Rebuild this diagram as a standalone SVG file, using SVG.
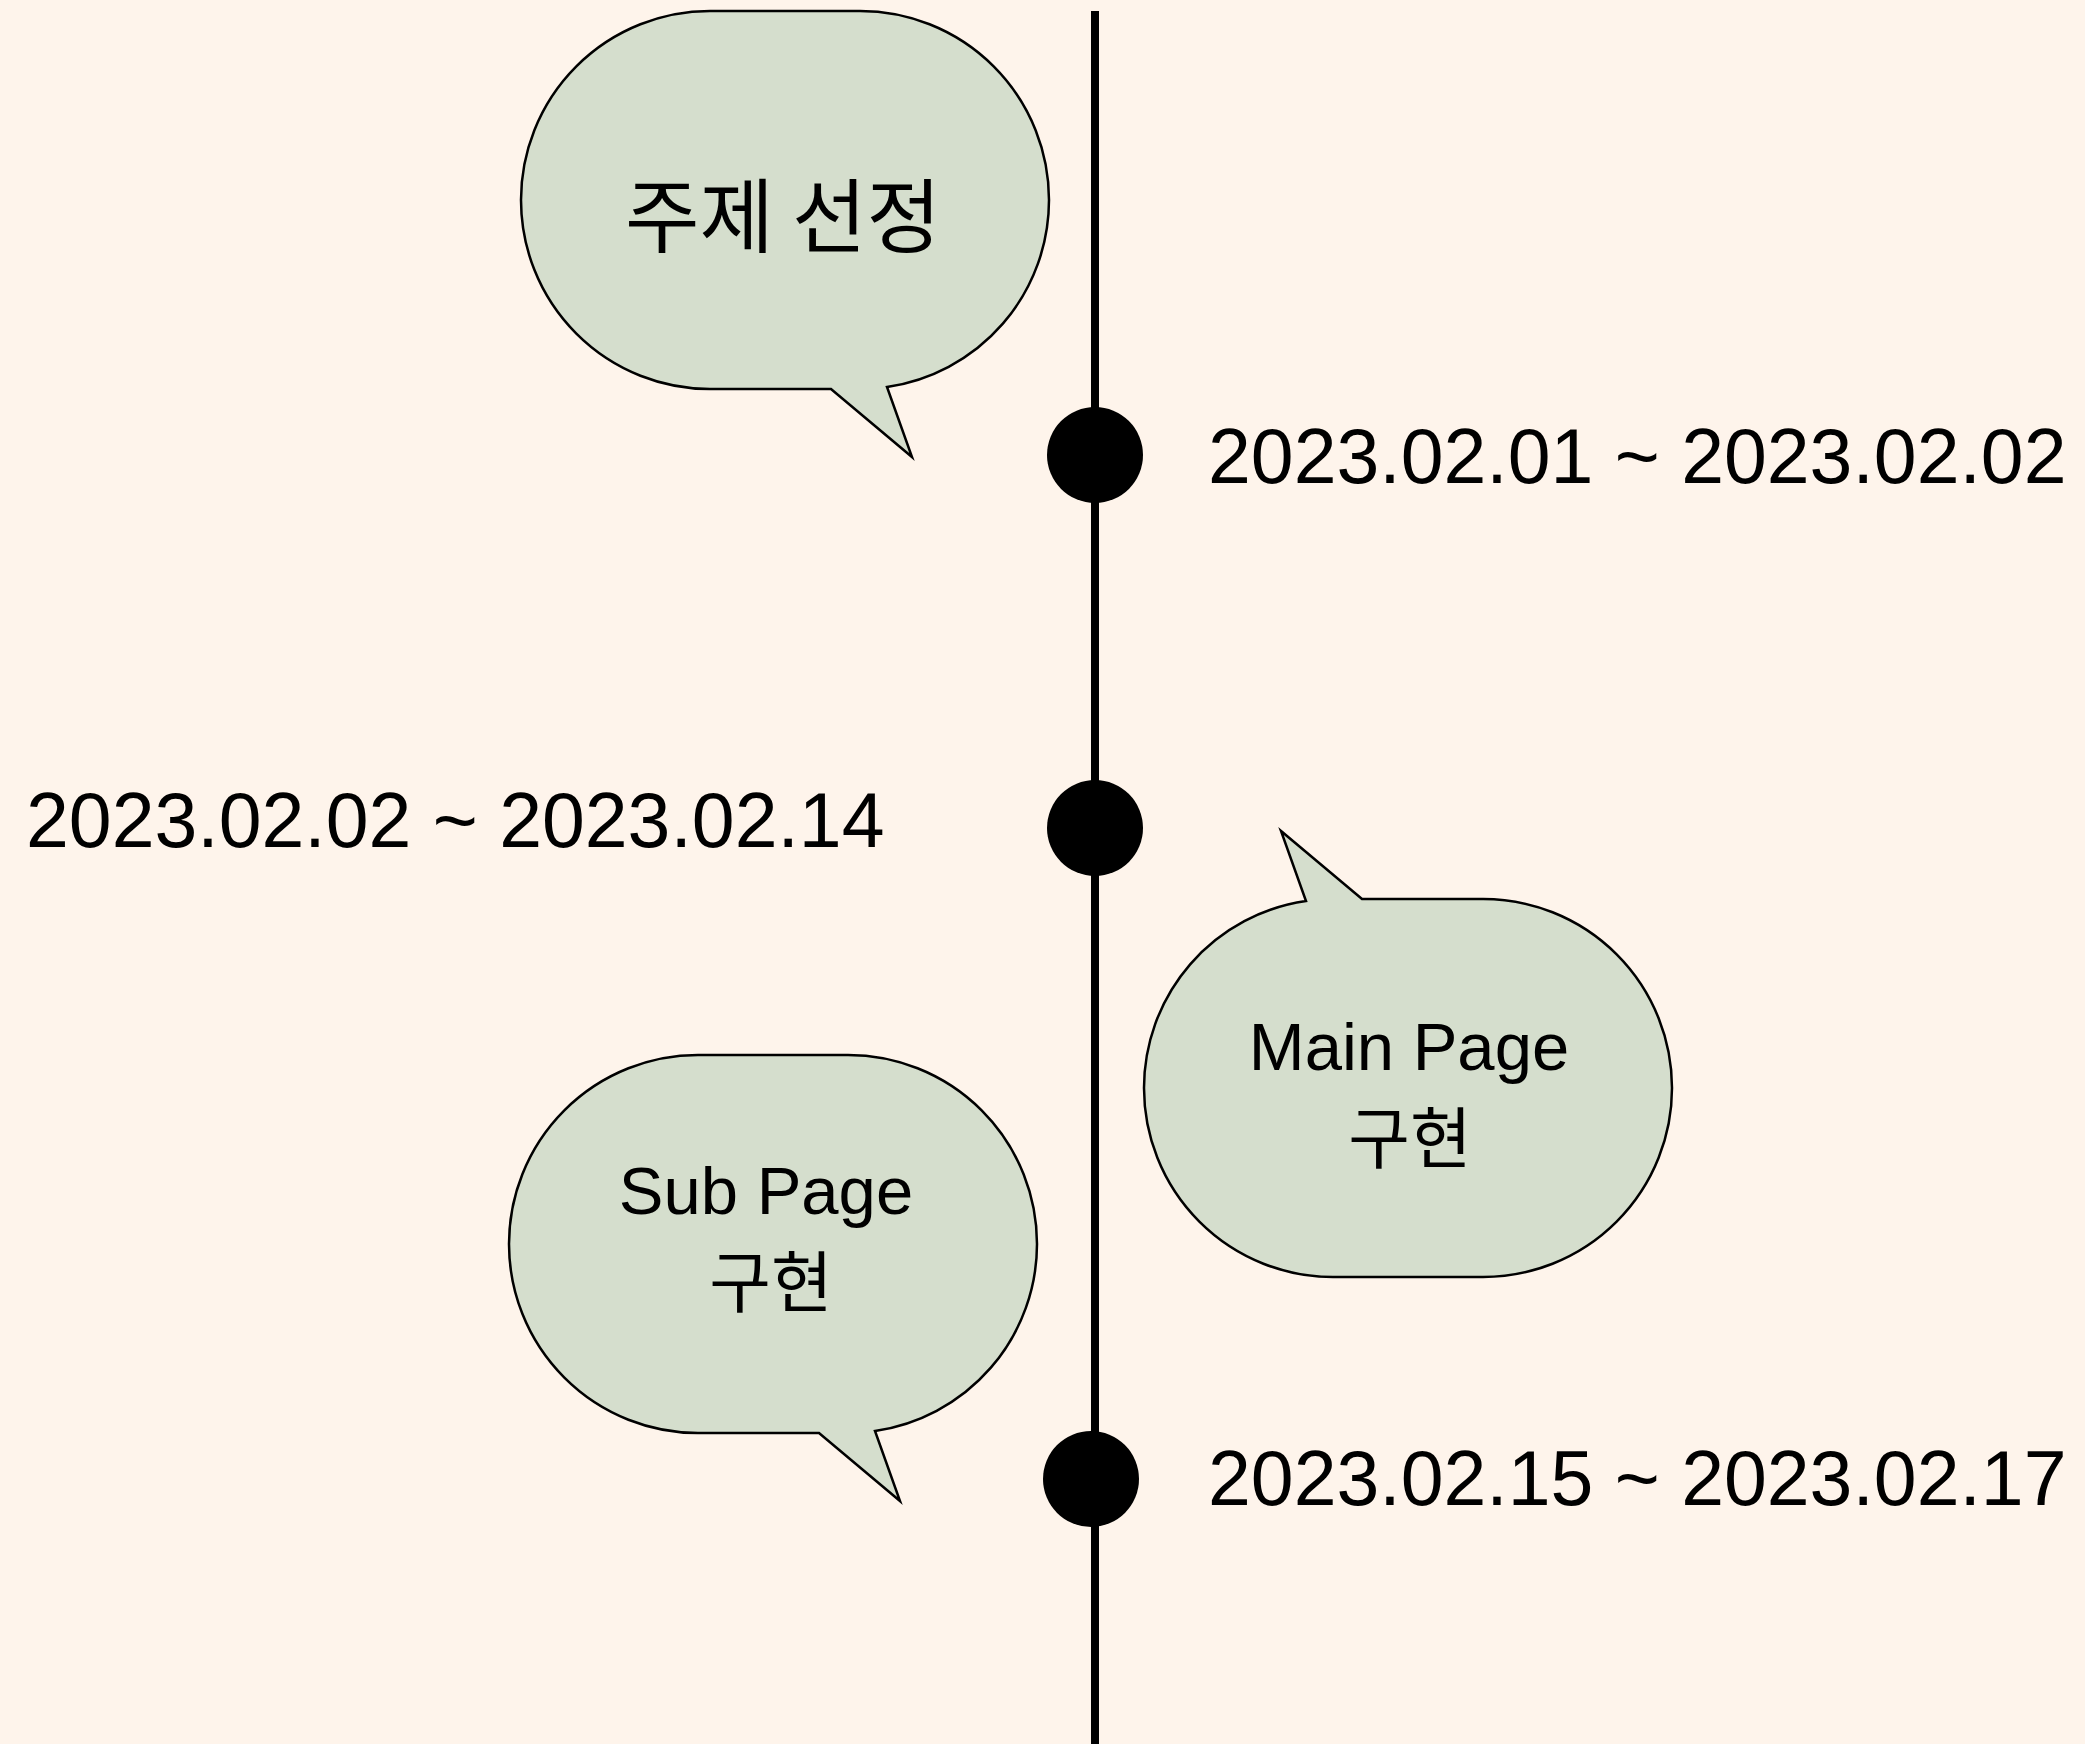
<svg xmlns="http://www.w3.org/2000/svg" width="2085" height="1744" viewBox="0 0 2085 1744">
<defs>
<style>
.bubble{fill:#D5DECD;stroke:#000;stroke-width:2.5;stroke-linejoin:miter}
.dot{fill:#000}
.date{font-family:"Liberation Sans","Noto Sans",sans-serif;font-size:77px;fill:#000}
.lbl{font-family:"Liberation Sans","Noto Sans CJK KR",sans-serif;font-size:67px;fill:#000;text-anchor:middle}
.ko{font-family:"Noto Sans CJK KR",sans-serif;fill:#000;text-anchor:middle}
</style>
<path id="bub" d="M -75 -189 L 75 -189 A 189 189 0 0 1 264 0 A 189 189 0 0 1 102 187 L 127 257 L 46 189 L -75 189 A 189 189 0 0 1 -264 0 A 189 189 0 0 1 -75 -189 Z"/>
</defs>
<rect x="0" y="0" width="2085" height="1744" fill="#FEF4EB"/>
<g id="connectors">
<line x1="1095" y1="11" x2="1095" y2="1744" stroke="#000" stroke-width="8"/>
</g>
<g id="dot1"><circle class="dot" cx="1095" cy="455" r="48"/></g>
<g id="dot2"><circle class="dot" cx="1095" cy="828" r="48"/></g>
<g id="dot3"><circle class="dot" cx="1091" cy="1479" r="48"/></g>
<g id="bubble1">
<use href="#bub" class="bubble" transform="translate(785,200)"/>
<text class="ko" x="783" y="246" font-size="81" font-weight="400">주제 선정</text>
</g>
<g id="bubble2">
<use href="#bub" class="bubble" transform="translate(1408,1088) rotate(180)"/>
<text class="lbl" x="1409" y="1070">Main Page</text>
<text class="ko" x="1410" y="1163" font-size="67">구현</text>
</g>
<g id="bubble3">
<use href="#bub" class="bubble" transform="translate(773,1244)"/>
<text class="lbl" x="766" y="1214">Sub Page</text>
<text class="ko" x="771" y="1307" font-size="67">구현</text>
</g>
<g id="date1"><text class="date" x="1208" y="483">2023.02.01 ~ 2023.02.02</text></g>
<g id="date2"><text class="date" x="26" y="847">2023.02.02 ~ 2023.02.14</text></g>
<g id="date3"><text class="date" x="1208" y="1505">2023.02.15 ~ 2023.02.17</text></g>
</svg>
